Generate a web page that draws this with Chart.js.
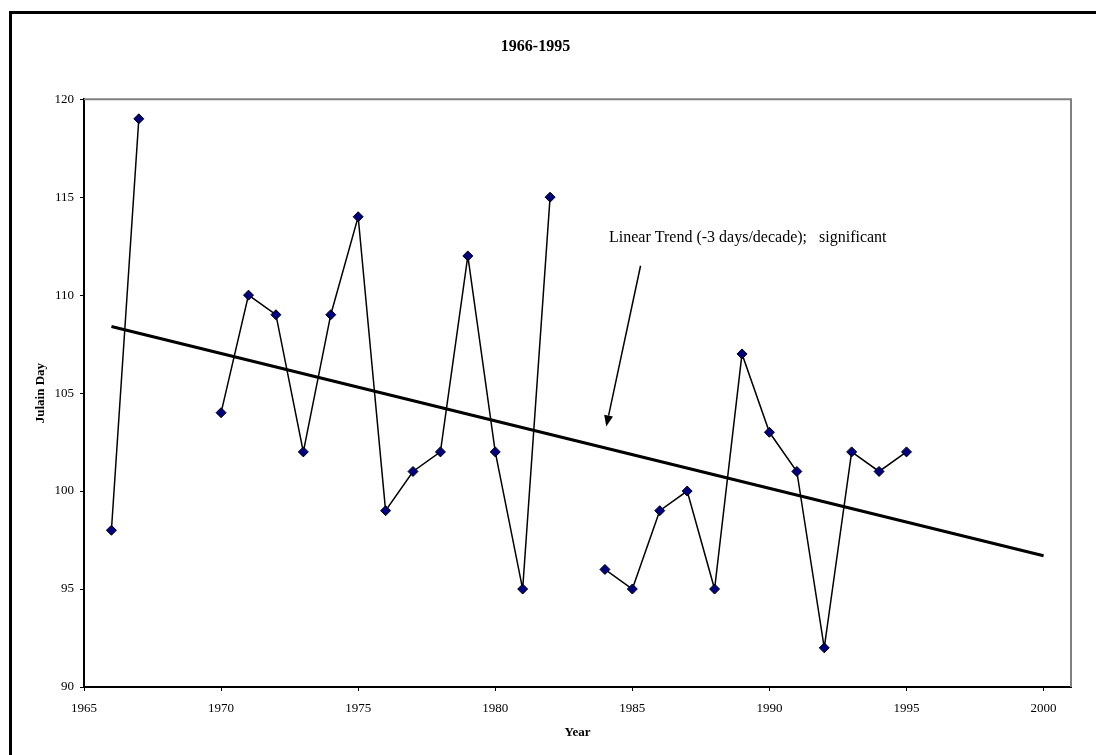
<!DOCTYPE html>
<html>
<head>
<meta charset="utf-8">
<script src="https://cdn.jsdelivr.net/npm/chart.js@4/dist/chart.umd.min.js"></script>
<style>
  html, body { margin: 0; padding: 0; background: #fff; }
  #wrap { position: relative; width: 1096px; height: 755px; overflow: hidden; }
  #frame { position: absolute; left: 9px; top: 11px; width: 1200px; height: 900px;
           border-left: 3px solid #000; border-top: 3px solid #000; box-sizing: border-box; pointer-events: none; }
  canvas { position: absolute; left: 0; top: 0; }
</style>
</head>
<body>
<div id="wrap">
  <canvas id="c" width="1096" height="755"></canvas>
  <div id="frame"></div>
</div>
<script>
// ---- Data ----
const years = [1966, 1967, 1968, 1969, 1970, 1971, 1972, 1973, 1974, 1975, 1976, 1977, 1978, 1979, 1980,
               1981, 1982, 1983, 1984, 1985, 1986, 1987, 1988, 1989, 1990, 1991, 1992, 1993, 1994, 1995];
const julianDay = [98, 119, null, null, 104, 110, 109, 102, 109, 114, 99, 101, 102, 112, 102,
                   95, 115, null, 96, 95, 99, 100, 95, 107, 103, 101, 92, 102, 101, 102];
const trendYears = [1966, 2000];
const trendValues = [108.4, 96.7];
const xTickValues = [1965, 1970, 1975, 1980, 1985, 1990, 1995, 2000];
const yTickValues = [90, 95, 100, 105, 110, 115, 120];
const chartTitle = '1966-1995';
const xTitle = 'Year';
const yTitle = 'Julain Day';
const annotationText = 'Linear Trend (-3 days/decade);   significant';
// annotation anchor (data coordinates)
const annotationTextAt = [1984.15, 112.95];
const arrowFrom = [1985.3, 111.5];
const arrowTo = [1984.05, 103.3];

const FONT = "'Liberation Serif', 'Times New Roman', serif";

const seriesData = years.map((y, i) => ({ x: y, y: julianDay[i] }));
const trendData = trendYears.map((y, i) => ({ x: y, y: trendValues[i] }));

const framePlugin = {
  id: 'framePlugin',
  beforeDatasetsDraw(chart) {
    const { ctx, chartArea: a } = chart;
    ctx.save();
    ctx.strokeStyle = '#808080';
    ctx.lineWidth = 2;
    ctx.beginPath();
    ctx.moveTo(a.left, a.top);
    ctx.lineTo(a.right, a.top);
    ctx.lineTo(a.right, a.bottom);
    ctx.stroke();
    ctx.restore();
  },
  afterDraw(chart) {
    const { ctx, scales: { x, y } } = chart;
    ctx.save();
    ctx.fillStyle = '#000';
    ctx.font = '16px ' + FONT;
    ctx.textBaseline = 'middle';
    ctx.textAlign = 'left';
    ctx.fillText(annotationText, x.getPixelForValue(annotationTextAt[0]), y.getPixelForValue(annotationTextAt[1]));
    const x1 = x.getPixelForValue(arrowFrom[0]), y1 = y.getPixelForValue(arrowFrom[1]);
    const x2 = x.getPixelForValue(arrowTo[0]), y2 = y.getPixelForValue(arrowTo[1]);
    const ang = Math.atan2(y2 - y1, x2 - x1);
    const hl = 11, hw = 4.5;
    const bx = x2 - hl * Math.cos(ang), by = y2 - hl * Math.sin(ang);
    ctx.strokeStyle = '#000';
    ctx.lineWidth = 1.5;
    ctx.beginPath();
    ctx.moveTo(x1, y1);
    ctx.lineTo(bx, by);
    ctx.stroke();
    ctx.beginPath();
    ctx.moveTo(x2, y2);
    ctx.lineTo(bx + hw * Math.sin(ang), by - hw * Math.cos(ang));
    ctx.lineTo(bx - hw * Math.sin(ang), by + hw * Math.cos(ang));
    ctx.closePath();
    ctx.fill();
    ctx.restore();
  }
};

new Chart(document.getElementById('c'), {
  type: 'line',
  data: {
    datasets: [
      {
        label: 'Julian Day',
        data: seriesData,
        borderColor: '#000',
        borderWidth: 1.5,
        pointStyle: 'rectRot',
        pointRadius: 5,
        pointBackgroundColor: '#000080',
        pointBorderColor: '#000',
        pointBorderWidth: 1,
        spanGaps: false,
        tension: 0
      },
      {
        label: 'Linear Trend',
        data: trendData,
        borderColor: '#000',
        borderWidth: 3,
        pointRadius: 0,
        tension: 0
      }
    ]
  },
  options: {
    responsive: false,
    animation: false,
    layout: { padding: { left: 0, right: 25, top: 0, bottom: 0 } },
    plugins: {
      legend: { display: false },
      tooltip: { enabled: false },
      title: {
        display: true,
        text: chartTitle,
        color: '#000',
        font: { family: FONT, size: 16, weight: 'bold' },
        padding: { top: 37, bottom: 43 }
      }
    },
    scales: {
      x: {
        type: 'linear',
        min: 1965,
        max: 2001,
        afterFit(s) { s.height = 68; },
        afterBuildTicks(s) { s.ticks = xTickValues.map(v => ({ value: v })); },
        ticks: {
          color: '#000',
          font: { family: FONT, size: 13 },
          padding: 10,
          maxRotation: 0,
          callback: v => String(v)
        },
        grid: { display: true, drawOnChartArea: false, color: '#000', tickLength: 4, tickWidth: 1 },
        border: { display: true, color: '#000', width: 2 },
        title: {
          display: true,
          text: xTitle,
          color: '#000',
          font: { family: FONT, size: 13, weight: 'bold' },
          padding: { top: 0, bottom: 15 }
        }
      },
      y: {
        type: 'linear',
        min: 90,
        max: 120,
        afterFit(s) { s.width = 84; },
        afterBuildTicks(s) { s.ticks = yTickValues.map(v => ({ value: v })); },
        ticks: {
          color: '#000',
          font: { family: FONT, size: 13 },
          padding: 6,
          callback: v => String(v)
        },
        grid: { display: true, drawOnChartArea: false, color: '#000', tickLength: 4, tickWidth: 1 },
        border: { display: true, color: '#000', width: 2 },
        title: {
          display: true,
          text: yTitle,
          color: '#000',
          font: { family: FONT, size: 13, weight: 'bold' },
          padding: { top: 33, bottom: 0 }
        }
      }
    }
  },
  plugins: [framePlugin]
});
</script>
</body>
</html>
